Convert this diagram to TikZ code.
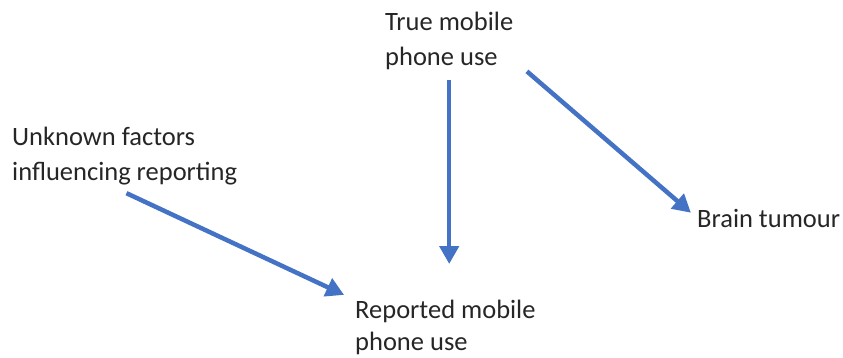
\documentclass[tikz,border=0pt]{standalone}
\usepackage{fontspec}
\setmainfont{Carlito}
\usetikzlibrary{arrows.meta}
\definecolor{arrowblue}{HTML}{4472C4}
\definecolor{labelgray}{HTML}{262626}

\begin{document}
\begin{tikzpicture}[x=1pt, y=-1pt,
    factor/.style ={inner sep=0pt, align=left, text=labelgray,
                    font=\fontsize{26.5}{35}\selectfont},
    effect/.style ={draw=arrowblue, line width=4.5pt,
                    -{Triangle[length=18pt,width=19pt]}}]
   \useasboundingbox (0,0) rectangle (843,358);
   \node[factor, anchor=north west] (T)  at (385,12)  {True mobile\\phone use};
   \node[factor, anchor=north west] (U)  at (12,127)  {Unknown factors\\influencing reporting};
   \node[factor, anchor=north west, font=\fontsize{26.5}{32}\selectfont]
                                    (R)  at (355,300) {Reported mobile\\phone use};
   \node[factor, anchor=base west]  (B)  at (697,227) {Brain tumour};
   \draw[effect, shorten <=10pt, shorten >=36pt] (T.south) to (T.south |- R.north);
   \draw[effect, shorten <=2pt, shorten >=8pt] ([xshift=12pt]T.south east) to (B.west);
   \draw[effect, shorten <=2pt, shorten >=12pt] ([yshift=-7pt]U.south) to (R.north west);
\end{tikzpicture}
\end{document}
